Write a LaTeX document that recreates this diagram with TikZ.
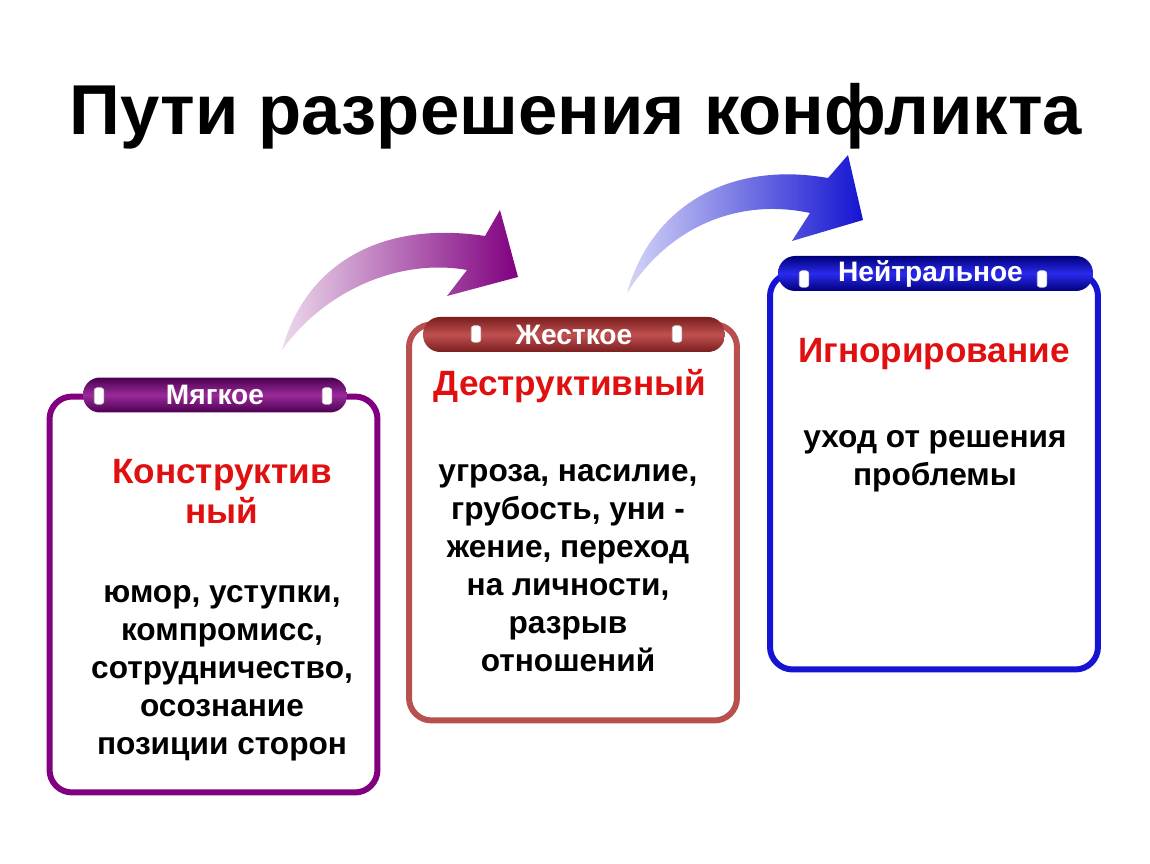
\documentclass[tikz,border=0pt]{standalone}
\usepackage{fontspec}
\setmainfont{Liberation Sans}
\usetikzlibrary{positioning}

\definecolor{softline}{HTML}{800080}
\definecolor{softdark}{HTML}{4A0050}
\definecolor{softmid}{HTML}{9A2A9A}
\definecolor{hardline}{HTML}{B85050}
\definecolor{harddark}{HTML}{7A1E1E}
\definecolor{hardmid}{HTML}{C05050}
\definecolor{neutline}{HTML}{1414D2}
\definecolor{neutdark}{HTML}{00007A}
\definecolor{neutmid}{HTML}{2A2AEE}
\definecolor{headred}{HTML}{E01010}

\begin{document}
\begin{tikzpicture}[
    x=0.02cm, y=-0.02cm,
    cardframe/.style={draw, line width=3.4pt, rounded corners=0.45cm, minimum width=6.56cm, minimum height=7.92cm, inner sep=0pt},
    cardtab/.style={rounded corners=0.34cm, minimum height=0.7cm, inner sep=0pt, text=white, font=\bfseries\fontsize{16}{19}\selectfont},
    tabpeg/.style={fill=white, draw=gray!40, line width=0.3pt, rounded corners=1.5pt, minimum width=0.19cm, minimum height=0.33cm, inner sep=0pt},
    heading/.style={align=center, text=headred, font=\bfseries\fontsize{20}{22.7}\selectfont},
    body/.style={align=center, font=\bfseries\fontsize{18}{21.6}\selectfont}
]
\useasboundingbox (0,0) rectangle (1150,864);

% Title
\node[anchor=base, font=\bfseries\fontsize{40.2}{48}\selectfont] (title) at (576,135) {Пути разрешения конфликта};

% Curved arrows
\coordinate (tail1) at (282,350);
\coordinate (head1) at (518,277);
\shade[left color=softline!15, right color=softline] (tail1) .. controls (305,265) and (380,220) .. (485,236) -- (500,210) -- (head1) -- (447,296) -- (467,270) .. controls (400,258) and (325,290) .. cycle;

\coordinate (tail2) at (627,293);
\coordinate (head2) at (863,220);
\shade[left color=neutline!18, right color=neutline] (tail2) .. controls (650,210) and (725,160) .. (828,178) -- (848,155) -- (head2) -- (792,241) -- (810,213) .. controls (740,198) and (670,225) .. cycle;

% Frames
\node[cardframe, draw=softline] (softbox) at (213.5,594.5) {};
\node[cardframe, draw=hardline] (hardbox) at (573,522.5) {};
\node[cardframe, draw=neutline] (neutbox) at (934,471.5) {};

% Tabs
\node[cardtab, minimum width=5.28cm, top color=softdark, bottom color=softdark, middle color=softmid] (softtab) at (215,395) {Мягкое};
\node[cardtab, minimum width=6.04cm, top color=harddark, bottom color=harddark, middle color=hardmid] (hardtab) at (574,334.5) {Жесткое};
\node[cardtab, minimum width=6.3cm, top color=neutdark, bottom color=neutdark, middle color=neutmid] (neuttab) at (935.5,273.5) {\hspace*{-0.2cm}Нейтральное};

% Pegs on the tabs
\node[tabpeg] (softpegl) at (99,396) {};
\node[tabpeg] (softpegr) at (327,396) {};
\node[tabpeg] (hardpegl) at (476,334) {};
\node[tabpeg] (hardpegr) at (677,334) {};
\node[tabpeg] (neutpegl) at (804,279) {};
\node[tabpeg] (neutpegr) at (1042,279) {};

% Headings
\node[heading] (softhead) at (222,491) {Конструктив\\ный};
\node[heading] (hardhead) at (570,386) {Деструктивный};
\node[heading] (neuthead) at (934,354) {Игнорирование};

% Texts
\node[body] (softtext) at (222,673) {юмор, уступки,\\компромисс,\\сотрудничество,\\осознание\\позиции сторон};
\node[body] (hardtext) at (568,568) {угроза, насилие,\\грубость, уни -\\жение, переход\\на личности,\\разрыв\\отношений};
\node[body] (neuttext) at (935,461) {уход от решения\\проблемы};

\end{tikzpicture}
\end{document}
